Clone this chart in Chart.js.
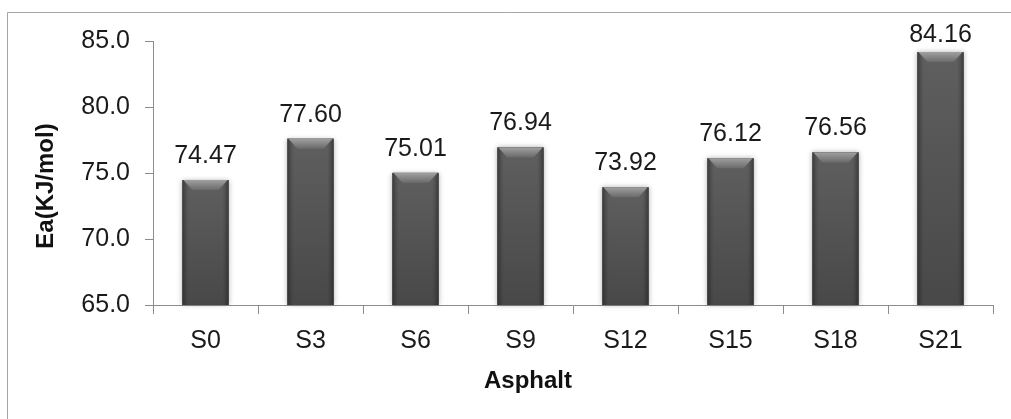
<!DOCTYPE html>
<html>
<head>
<meta charset="utf-8">
<script src="https://cdn.jsdelivr.net/npm/chart.js@4.4.1/dist/chart.umd.min.js"></script>
<style>
  html, body { margin: 0; padding: 0; background: #ffffff; }
  #wrap { position: relative; width: 1011px; height: 419px; }
  canvas { display: block; }
</style>
</head>
<body>
<div id="wrap"><canvas id="chart" width="1011" height="419"></canvas></div>
<script>
// Activation energy per asphalt sample
const categories = ['S0', 'S3', 'S6', 'S9', 'S12', 'S15', 'S18', 'S21'];
const eaValues = [74.47, 77.60, 75.01, 76.94, 73.92, 76.12, 76.56, 84.16];
const yTicks = [65, 70, 75, 80, 85];
const yTitle = 'Ea(KJ/mol)';
const xTitle = 'Asphalt';

const FONT = "'Liberation Sans', Arial, sans-serif";
const AXIS_GREY = '#8c8c8c';

// Frame (top and left edges) around the chart
const framePlugin = {
  id: 'frame',
  beforeDraw(chart) {
    const ctx = chart.ctx;
    ctx.save();
    ctx.strokeStyle = '#a6a6a6';
    ctx.lineWidth = 1;
    ctx.beginPath();
    ctx.moveTo(7.5, chart.height);
    ctx.lineTo(7.5, 12.5);
    ctx.lineTo(chart.width, 12.5);
    ctx.stroke();
    ctx.restore();
  }
};

function barBox(chart, bar) {
  const p = bar.getProps(['x', 'y', 'base', 'width'], true);
  const bottom = Math.min(p.base, chart.chartArea.bottom);
  return { l: p.x - p.width / 2, r: p.x + p.width / 2, t: p.y, b: bottom, w: p.width, x: p.x };
}

// Bevelled, shaded look for each bar plus the value label above it
const barStylePlugin = {
  id: 'barStyle',
  beforeDatasetsDraw(chart) {
    const ctx = chart.ctx;
    const meta = chart.getDatasetMeta(0);
    ctx.save();
    meta.data.forEach(bar => {
      const b = barBox(chart, bar);
      ctx.shadowColor = 'rgba(0,0,0,0.3)';
      ctx.shadowBlur = 5;
      ctx.fillStyle = '#555';
      ctx.fillRect(b.l, b.t, b.w, b.b - b.t);
    });
    ctx.restore();
  },
  afterDatasetsDraw(chart) {
    const ctx = chart.ctx;
    const meta = chart.getDatasetMeta(0);
    const ds = chart.data.datasets[0].data;
    ctx.save();
    meta.data.forEach((bar, i) => {
      const b = barBox(chart, bar);
      const h = b.b - b.t;
      // body: slightly lighter near the top
      const gv = ctx.createLinearGradient(0, b.t, 0, b.b);
      gv.addColorStop(0, '#5f5f5f');
      gv.addColorStop(1, '#484848');
      ctx.fillStyle = gv;
      ctx.fillRect(b.l, b.t, b.w, h);
      // darker rims at the sides
      const g = ctx.createLinearGradient(b.l, 0, b.r, 0);
      const e = 4 / b.w;
      g.addColorStop(0, 'rgba(30,30,30,0.55)');
      g.addColorStop(e, 'rgba(30,30,30,0.15)');
      g.addColorStop(e * 1.6, 'rgba(30,30,30,0)');
      g.addColorStop(1 - e * 1.6, 'rgba(30,30,30,0)');
      g.addColorStop(1 - e, 'rgba(30,30,30,0.15)');
      g.addColorStop(1, 'rgba(30,30,30,0.55)');
      ctx.fillStyle = g;
      ctx.fillRect(b.l, b.t, b.w, h);
      // top bevel
      const bev = 10;
      const gb = ctx.createLinearGradient(0, b.t, 0, b.t + bev);
      gb.addColorStop(0, '#a0a0a0');
      gb.addColorStop(1, '#6a6a6a');
      ctx.fillStyle = gb;
      ctx.beginPath();
      ctx.moveTo(b.l + 1, b.t);
      ctx.lineTo(b.r - 1, b.t);
      ctx.lineTo(b.r - bev, b.t + bev);
      ctx.lineTo(b.l + bev, b.t + bev);
      ctx.closePath();
      ctx.fill();
      // value label, kept inside the frame
      ctx.fillStyle = '#1a1a1a';
      ctx.font = '25px ' + FONT;
      ctx.textAlign = 'center';
      ctx.textBaseline = 'alphabetic';
      const ty = Math.max(b.t - 17, 42);
      ctx.fillText(ds[i].toFixed(2), b.x, ty);
    });
    ctx.restore();
  }
};

// Axis titles
const titlePlugin = {
  id: 'axisTitles',
  afterDraw(chart) {
    const ctx = chart.ctx;
    ctx.save();
    ctx.fillStyle = '#111';
    ctx.font = 'bold 24px ' + FONT;
    ctx.textAlign = 'center';
    ctx.textBaseline = 'middle';
    ctx.fillText(xTitle, 528, 381);
    ctx.translate(46, 186);
    ctx.rotate(-Math.PI / 2);
    ctx.fillText(yTitle, 0, 0);
    ctx.restore();
  }
};

new Chart(document.getElementById('chart'), {
  type: 'bar',
  data: {
    labels: categories,
    datasets: [{
      data: eaValues,
      backgroundColor: 'rgba(0,0,0,0)',
      borderWidth: 0,
      barPercentage: 0.44,
      categoryPercentage: 1.0
    }]
  },
  options: {
    responsive: false,
    animation: false,
    events: [],
    layout: { padding: { left: 0, top: 41, right: 18, bottom: 0 } },
    plugins: {
      legend: { display: false },
      tooltip: { enabled: false },
      title: { display: false }
    },
    scales: {
      x: {
        type: 'category',
        offset: true,
        border: { display: true, color: AXIS_GREY, width: 1 },
        grid: {
          display: true,
          offset: true,
          drawOnChartArea: false,
          drawTicks: true,
          tickLength: 9,
          color: AXIS_GREY
        },
        ticks: {
          color: '#1a1a1a',
          font: { family: FONT, size: 25 },
          padding: 12,
          maxRotation: 0
        },
        afterFit(scale) { scale.height = 114; }
      },
      y: {
        min: 65,
        max: 85,
        afterBuildTicks(scale) {
          scale.ticks = yTicks.map(v => ({ value: v }));
        },
        border: { display: true, color: AXIS_GREY, width: 1 },
        grid: {
          display: true,
          drawOnChartArea: false,
          drawTicks: true,
          tickLength: 8,
          color: AXIS_GREY
        },
        ticks: {
          color: '#1a1a1a',
          font: { family: FONT, size: 25 },
          padding: 15,
          callback: v => Number(v).toFixed(1)
        },
        afterFit(scale) { scale.width = 153; }
      }
    }
  },
  plugins: [framePlugin, barStylePlugin, titlePlugin]
});
</script>
</body>
</html>
